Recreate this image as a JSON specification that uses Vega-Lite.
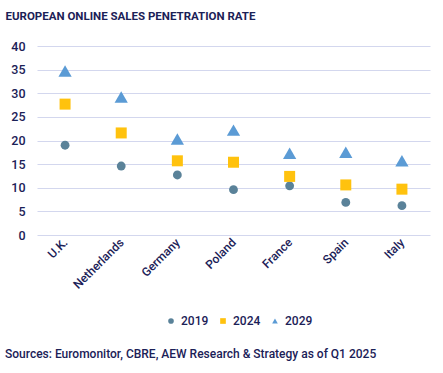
{
  "$schema": "https://vega.github.io/schema/vega-lite/v6.json",
  "width": 393,
  "height": 189,
  "padding": {"left": 5, "top": 10, "right": 13, "bottom": 5},
  "background": "white",
  "title": {
    "text": "Sources: Euromonitor, CBRE, AEW Research & Strategy as of Q1 2025",
    "orient": "bottom",
    "anchor": "start",
    "font": "Roboto",
    "fontSize": 12,
    "fontWeight": 500,
    "color": "#1b2157",
    "offset": 22
  },
  "data": {
    "values": [
      {"country": "U.K.", "year": "2019", "value": 19.0},
      {"country": "U.K.", "year": "2024", "value": 27.7},
      {"country": "U.K.", "year": "2029", "value": 34.7},
      {"country": "Netherlands", "year": "2019", "value": 14.6},
      {"country": "Netherlands", "year": "2024", "value": 21.6},
      {"country": "Netherlands", "year": "2029", "value": 29.2},
      {"country": "Germany", "year": "2019", "value": 12.7},
      {"country": "Germany", "year": "2024", "value": 15.7},
      {"country": "Germany", "year": "2029", "value": 20.3},
      {"country": "Poland", "year": "2019", "value": 9.6},
      {"country": "Poland", "year": "2024", "value": 15.4},
      {"country": "Poland", "year": "2029", "value": 22.2},
      {"country": "France", "year": "2019", "value": 10.4},
      {"country": "France", "year": "2024", "value": 12.4},
      {"country": "France", "year": "2029", "value": 17.3},
      {"country": "Spain", "year": "2019", "value": 6.9},
      {"country": "Spain", "year": "2024", "value": 10.6},
      {"country": "Spain", "year": "2029", "value": 17.5},
      {"country": "Italy", "year": "2019", "value": 6.2},
      {"country": "Italy", "year": "2024", "value": 9.7},
      {"country": "Italy", "year": "2029", "value": 15.7}
    ]
  },
  "mark": {
    "type": "point",
    "filled": true,
    "opacity": 1,
    "size": {"expr": "datum.year === '2019' ? 78 : datum.year === '2024' ? 121 : 175"}
  },
  "encoding": {
    "x": {
      "field": "country",
      "type": "nominal",
      "sort": null,
      "scale": {"paddingInner": 0, "paddingOuter": 0},
      "axis": {
        "title": null,
        "labelAngle": -45,
        "labelAlign": "right",
        "labelBaseline": "middle",
        "labelPadding": 5,
        "ticks": false,
        "domain": false,
        "grid": false,
        "labelFont": "Roboto",
        "labelFontSize": 12,
        "labelFontWeight": 500,
        "labelColor": "#1b2157"
      }
    },
    "y": {
      "field": "value",
      "type": "quantitative",
      "scale": {"domain": [0, 40], "nice": false},
      "axis": {
        "title": "EUROPEAN ONLINE SALES PENETRATION RATE",
        "titleAngle": 0,
        "titleAlign": "left",
        "titleBaseline": "alphabetic",
        "titleX": -32,
        "titleY": -27,
        "titleFont": "Roboto",
        "titleFontSize": 11.5,
        "titleFontWeight": "bold",
        "titleColor": "#1b2157",
        "values": [0, 5, 10, 15, 20, 25, 30, 35, 40],
        "ticks": false,
        "domain": false,
        "labelPadding": 12,
        "labelFont": "Roboto",
        "labelFontSize": 12.5,
        "labelFontWeight": 500,
        "labelColor": "#1b2157",
        "gridColor": "#d3d7ee",
        "gridWidth": 1
      }
    },
    "color": {
      "field": "year",
      "type": "nominal",
      "scale": {"domain": ["2019", "2024", "2029"], "range": ["#5a8299", "#ffc20e", "#5b9bd5"]},
      "legend": {
        "title": null,
        "orient": "none",
        "direction": "horizontal",
        "legendX": 128,
        "legendY": 269,
        "symbolSize": 32,
        "columnPadding": 8,
        "labelOffset": 4,
        "labelFont": "Roboto",
        "labelFontSize": 12,
        "labelFontWeight": 500,
        "labelColor": "#1b2157"
      }
    },
    "shape": {
      "field": "year",
      "type": "nominal",
      "scale": {"domain": ["2019", "2024", "2029"], "range": ["circle", "square", "triangle-up"]}
    }
  },
  "config": {
    "view": {"stroke": null},
    "font": "Roboto"
  }
}
